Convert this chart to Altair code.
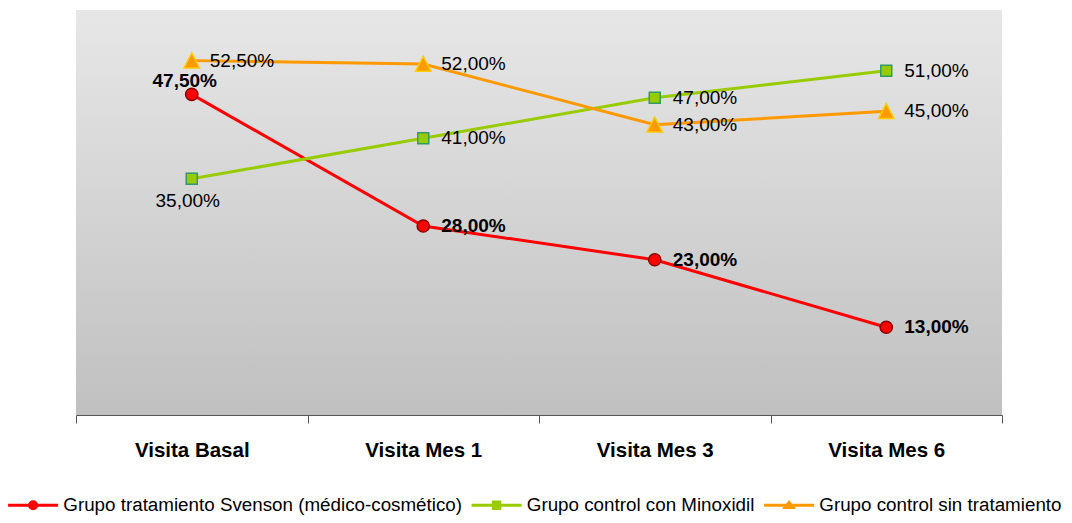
import altair as alt
import pandas as pd

# ---- data ----
categories = ["Visita Basal", "Visita Mes 1", "Visita Mes 3", "Visita Mes 6"]
series_names = [
    "Grupo tratamiento Svenson (médico-cosmético)",
    "Grupo control con Minoxidil",
    "Grupo control sin tratamiento",
]
svenson_values = [47.5, 28.0, 23.0, 13.0]
minoxidil_values = [35.0, 41.0, 47.0, 51.0]
sin_tratamiento_values = [52.5, 52.0, 43.0, 45.0]

rows = []
for name, vals in zip(series_names, [svenson_values, minoxidil_values, sin_tratamiento_values]):
    for cat, v in zip(categories, vals):
        rows.append({
            "visita": cat,
            "serie": name,
            "valor": v / 100.0,
            "etiqueta": f"{v:.2f}%".replace(".", ","),
        })
df = pd.DataFrame(rows)

# ---- styling ----
W, H = 926, 405
FONT = "Liberation Sans, Arial, Helvetica, sans-serif"

line_colors = ["#FF0000", "#99CC00", "#FF9900"]
marker_styles = [
    dict(shape="circle", fill="#FF0000", stroke="#8B0000", size=150),
    dict(shape="square", fill="#99CC00", stroke="#339966", size=121),
    dict(shape="M0,-1L1,0.95L-1,0.95Z", fill="#FF9900", stroke="#FFCC00", size=240),
]
bold_labels = [True, False, False]

# label placements that differ from the default "to the right of the point"
special = {
    (series_names[0], "Visita Basal"): dict(align="center", dx=-7, dy=-13),
    (series_names[1], "Visita Basal"): dict(align="center", dx=-4, dy=22),
}

x_enc = alt.X(
    "visita:N",
    sort=categories,
    bandPosition=0.5,
    scale=alt.Scale(type="band", paddingInner=0, paddingOuter=0),
    axis=alt.Axis(
        title=None, tickBand="extent", labelFont=FONT, labelFontSize=20.5,
        labelFontWeight="bold", labelColor="#000000", labelPadding=17,
        tickSize=8, domainColor="#555555", tickColor="#555555", labelAngle=0,
        zindex=1, grid=False, domainWidth=1, tickWidth=1,
    ),
)
y_enc = alt.Y("valor:Q", scale=alt.Scale(domain=[0, 0.6], nice=False, zero=True), axis=None)

base = alt.Chart(df)

bg = alt.Chart(pd.DataFrame({"k": [0]})).mark_rect(
    color=alt.Gradient(
        gradient="linear",
        stops=[alt.GradientStop(color="#e7e7e7", offset=0), alt.GradientStop(color="#c0c0c0", offset=1)],
        x1=0, x2=0, y1=0, y2=1,
    )
).encode(x=alt.value(0), x2=alt.value("width"), y=alt.value(0), y2=alt.value("height"))

layers = [bg]
for i, name in enumerate(series_names):
    sub = base.transform_filter(alt.datum.serie == name)
    layers.append(sub.mark_line(color=line_colors[i], strokeWidth=3).encode(x=x_enc, y=y_enc))
    ms = marker_styles[i]
    layers.append(
        sub.mark_point(
            shape=ms["shape"], filled=True, fill=ms["fill"], stroke=ms["stroke"],
            strokeWidth=1.5, size=ms["size"], opacity=1,
        ).encode(x=x_enc, y=y_enc)
    )

for i, name in enumerate(series_names):
    weight = "bold" if bold_labels[i] else "normal"
    specials_here = [c for (s, c) in special if s == name]
    sub = base.transform_filter(alt.datum.serie == name)
    default = sub
    for c in specials_here:
        default = default.transform_filter(alt.datum.visita != c)
    layers.append(
        default.mark_text(align="left", baseline="middle", dx=18, font=FONT, fontSize=19,
                          fontWeight=weight, color="#000000").encode(x=x_enc, y=y_enc, text="etiqueta:N")
    )
    for c in specials_here:
        p = special[(name, c)]
        layers.append(
            sub.transform_filter(alt.datum.visita == c).mark_text(
                align=p["align"], baseline="middle", dx=p["dx"], dy=p["dy"], font=FONT,
                fontSize=19, fontWeight=weight, color="#000000",
            ).encode(x=x_enc, y=y_enc, text="etiqueta:N")
        )

# legend carrier: no visible marks, explicit scales produce the legend
legend_paths = [
    "M-5,0H5M0.7,0A0.7,0.7,0,1,1,-0.7,0A0.7,0.7,0,1,1,0.7,0Z",
    "M-5,0H5M-0.64,-0.64H0.64V0.64H-0.64Z",
    "M-5,0H5M0,-0.56L0.8,0.44H-0.8Z",
]
legend_layer = base.transform_filter("false").mark_point(
    filled=True, size=100, opacity=1, strokeWidth=3
).encode(
    color=alt.Color("serie:N", scale=alt.Scale(domain=series_names, range=line_colors), legend=alt.Legend(title=None)),
    stroke=alt.Stroke("serie:N", scale=alt.Scale(domain=series_names, range=line_colors), legend=alt.Legend(title=None)),
    shape=alt.Shape("serie:N", scale=alt.Scale(domain=series_names, range=legend_paths), legend=alt.Legend(title=None)),
)
layers.append(legend_layer)

chart = alt.layer(*layers).properties(
    width=W, height=H,
    padding={"left": 68, "top": 2, "right": 62, "bottom": 100},
    autosize=alt.AutoSizeParams(type="none"),
    background="#ffffff",
).configure_view(stroke=None).configure_legend(
    orient="none", legendX=-52.3, legendY=485.5, direction="horizontal",
    labelFont=FONT, labelFontSize=18.8, labelColor="#000000", labelLimit=0,
    symbolSize=100, symbolStrokeWidth=3, labelOffset=20.8, columnPadding=2.5,
    symbolOffset=0, padding=0,
)

chart.save("out.html", embed_options={"renderer": "svg", "actions": False})
